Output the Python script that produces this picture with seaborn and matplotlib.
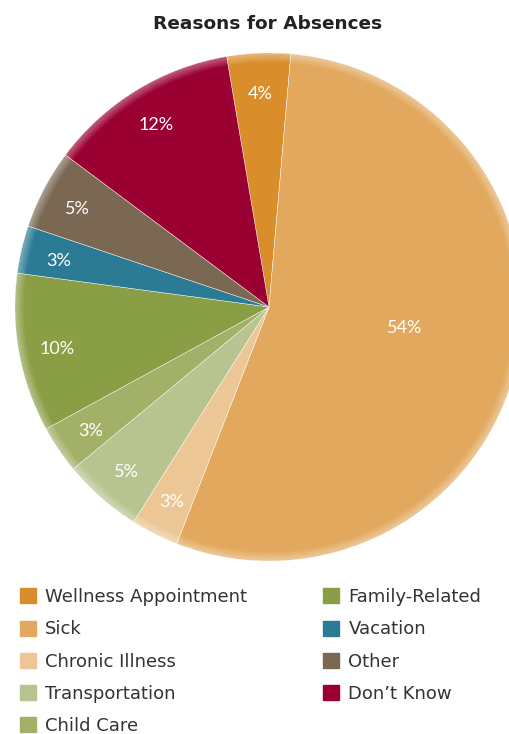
import matplotlib
matplotlib.use("Agg")
import matplotlib.pyplot as plt
import matplotlib.patches as mpatches
import numpy as np
import seaborn as sns

# data
reasons = ["Wellness Appointment", "Sick", "Chronic Illness", "Transportation",
           "Child Care", "Family-Related", "Vacation", "Other", "Don\u2019t Know"]
percents = [4, 54, 3, 5, 3, 10, 3, 5, 12]
colors = ["#D98E2B", "#E2A95E", "#ECC795", "#B8C48F", "#A2B068",
          "#8A9E45", "#2C7B95", "#7A6852", "#9B0032"]

sns.set_theme(style="white")
plt.rcParams["font.family"] = ["DejaVu Sans"]

fig = plt.figure(figsize=(5.10, 7.34), dpi=100)

# pie axes: centre ~ (269, 307) px, radius ~254 px
W, H = 510, 734
cx, cy, r = 269, 307, 254
ax = fig.add_axes([(cx - r) / W, 1 - (cy + r) / H, 2 * r / W, 2 * r / H])

wedges, texts = ax.pie(percents, colors=colors, startangle=99.6, counterclock=False,
                       radius=1, wedgeprops=dict(edgecolor="white", linewidth=0.3))

# soft light rim
n = 10
for i in range(n):
    ax.add_patch(mpatches.Circle((0, 0), 0.997 - i * 0.0035, fill=False,
                                 ec="white", lw=1.0, alpha=0.25 * (1 - i / n)))

# percentage labels
for w, p in zip(wedges, percents):
    mid = (w.theta1 + w.theta2) / 2
    if p > 50:
        ang, dist = np.deg2rad(mid + 5.5), 0.54
    else:
        ang, dist = np.deg2rad(mid), 0.85
    ax.text(dist * np.cos(ang), dist * np.sin(ang) - 0.01, f"{p}%", color="white",
            ha="center", va="center", fontsize=13, family=["Lato", "DejaVu Sans"])

ax.set_xlim(-1, 1)
ax.set_ylim(-1, 1)
ax.set_aspect("equal")
ax.axis("off")

fig.text(268 / W, 1 - 24 / H, "Reasons for Absences", ha="center", va="center",
         fontsize=13.3, fontweight="bold", color="#222222")

handles = [mpatches.Patch(color=c, label=l) for c, l in zip(colors, reasons)]
fig.legend(handles=handles, ncol=2, loc="upper left",
           bbox_to_anchor=(20 / W, 1 - 588 / H), frameon=False,
           fontsize=13, handlelength=0.9, handleheight=0.9, handletextpad=0.5,
           labelspacing=0.79, columnspacing=4.2, labelcolor="#333333",
           borderaxespad=0, borderpad=0)

fig.savefig("out.png", dpi=100)
